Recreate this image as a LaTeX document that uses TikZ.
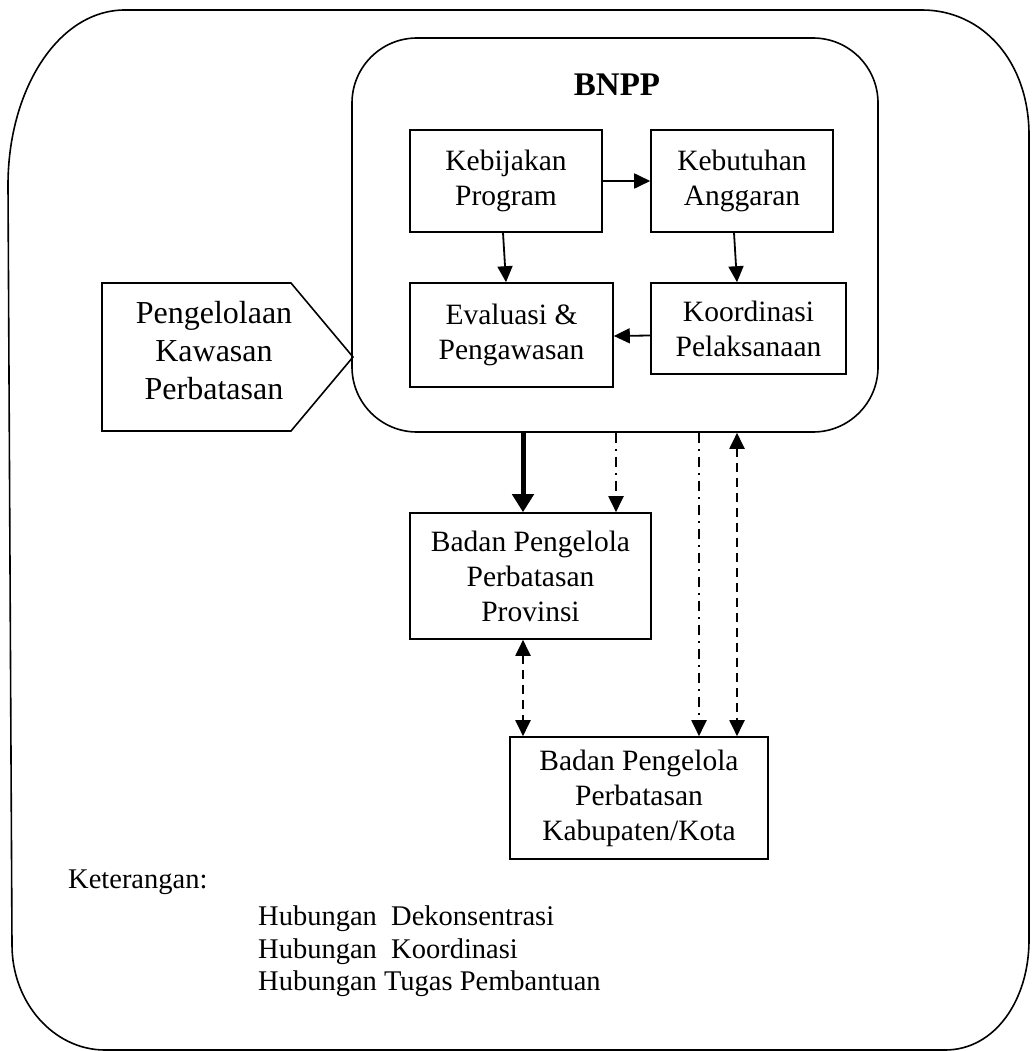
\documentclass[tikz,border=0pt]{standalone}
\usepackage{fontspec}
\setmainfont{Liberation Serif}
\usetikzlibrary{arrows.meta}
\begin{document}
\begin{tikzpicture}[x=1pt,y=-1pt,
  txt/.style={font=\fontsize{29.5}{35}\selectfont},
  box/.style={draw, line width=1.6pt, rectangle, align=center, inner sep=0pt, txt},
  frame/.style={draw, line width=1.6pt},
  arr/.style={line width=1.8pt, -{Triangle[length=16pt,width=15pt]}},
  dashpat/.style={line width=2pt, dash pattern=on 9pt off 6pt},
  dotdash/.style={line width=2pt, dash pattern=on 10pt off 6pt on 2pt off 6pt},
  tipd/.style={-{Triangle[length=16pt,width=15pt]}},
  tipdd/.style={{Triangle[length=16pt,width=15pt]}-{Triangle[length=16pt,width=15pt]}},
]
\useasboundingbox (0,0) rectangle (1032,1051);

% outer frame
\draw[frame] (125,10) -- (922,10)
  .. controls (983,10) and (1029,62) .. (1029,135)
  -- (1029,940)
  .. controls (1029,1000) and (995,1050) .. (945,1050)
  -- (105,1050)
  .. controls (54,1050) and (12,1003) .. (12,945)
  -- (8,185)
  .. controls (8,90) and (58,10) .. (125,10);

% BNPP rounded box
\node[frame, rounded corners=65pt, minimum width=526pt, minimum height=394pt, inner sep=0pt] (bnpp) at (615,235) {};
\node[font=\bfseries\fontsize{33}{38}\selectfont] (title) at (617,85) {BNPP};

\node[box, minimum width=192pt, minimum height=102pt] (kp) at (506,181) {Kebijakan\\Program};
\node[box, minimum width=182pt, minimum height=102pt] (ka) at (742,181) {Kebutuhan\\Anggaran};
\node[box, minimum width=203pt, minimum height=104pt] (ev) at (511.5,335) {Evaluasi \&\\Pengawasan};
\node[box, minimum width=195pt, minimum height=91pt] (ko) at (748.5,328.5) {Koordinasi\\Pelaksanaan};

\draw[arr] (kp.east) -- (ka.west);
\draw[arr] ([xshift=-3pt]kp.south) -- ([xshift=-5.5pt]ev.north);
\draw[arr] ([xshift=-8pt]ka.south) -- ([xshift=-11.5pt]ko.north);
\draw[arr] ([yshift=-7pt]ko.west) -- ([yshift=-1pt]ev.east);

% Pengelolaan pentagon
\draw[frame] (102,283) -- (291,283) -- (353,357) -- (291,431) -- (102,431) -- cycle;
\node[align=center, font=\fontsize{32}{38}\selectfont] (pk) at (214,351) {Pengelolaan\\Kawasan\\Perbatasan};

% lower boxes
\node[box, minimum width=241pt, minimum height=126pt] (prov) at (530.5,576) {Badan Pengelola\\Perbatasan\\Provinsi};
\node[box, minimum width=258pt, minimum height=122pt] (kab) at (639,798) {Badan Pengelola\\Perbatasan\\Kabupaten/Kota};

\coordinate (a1) at ([xshift=-7.5pt]prov.north);
\coordinate (a2) at ([xshift=85.5pt]prov.north);
\coordinate (a3) at ([xshift=-116pt]kab.north);
\coordinate (a4) at ([xshift=60pt]kab.north);
\coordinate (a5) at ([xshift=98pt]kab.north);

\draw[line width=5pt, -{Triangle[length=18pt,width=21pt]}] (a1 |- bnpp.south) -- (a1);
\draw[dotdash, tipd] (a2 |- bnpp.south) -- (a2);
\draw[dashpat, tipdd] (a3 |- prov.south) -- (a3);
\draw[dotdash, tipd] (a4 |- bnpp.south) -- (a4);
\draw[dashpat, tipdd] (a5 |- bnpp.south) -- (a5);

% legend
\node[anchor=west, inner sep=0pt, font=\fontsize{28.5}{33}\selectfont] (ket) at (68,882) {Keterangan:};
\node[anchor=north west, align=left, inner sep=0pt, font=\fontsize{28.5}{32.5}\selectfont] (leg) at (258,906)
  {Hubungan\ \ Dekonsentrasi\\Hubungan\ \ Koordinasi\\Hubungan Tugas Pembantuan};
\end{tikzpicture}
\end{document}
